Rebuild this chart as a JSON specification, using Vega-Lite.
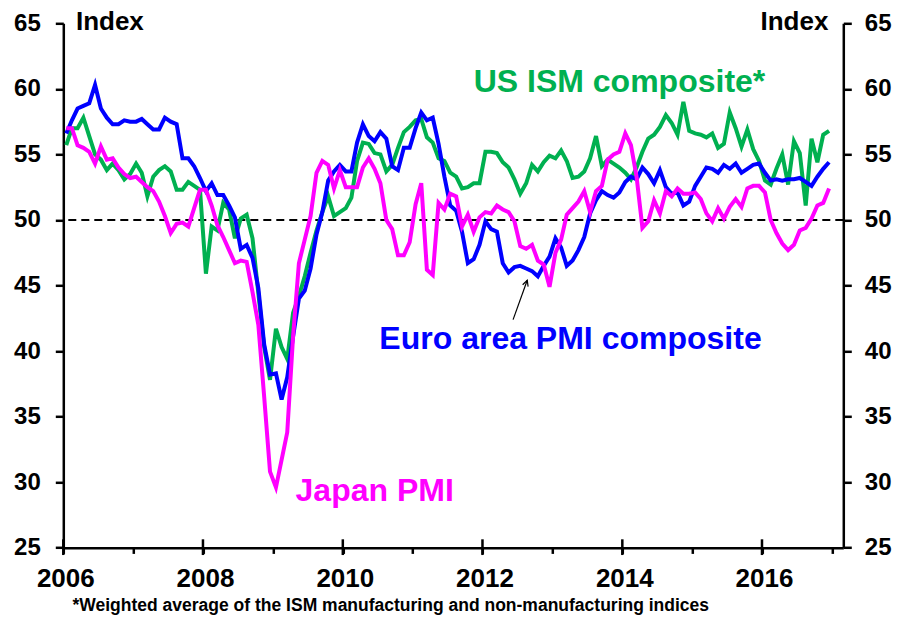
{
  "$schema": "https://vega.github.io/schema/vega-lite/v6.json",
  "width": 780,
  "height": 524.4,
  "autosize": {"type": "none"},
  "padding": {"left": 63.3, "top": 23.3, "right": 57.7, "bottom": 71.3},
  "background": "white",
  "config": {
    "view": {"stroke": null},
    "font": "Liberation Sans",
    "axis": {"grid": false, "domainColor": "#000000", "domainWidth": 2.5, "tickColor": "#000000", "tickWidth": 2.5, "labelColor": "#000000", "labelFont": "Liberation Sans", "labelFontWeight": "bold"}
  },
  "datasets": {
    "pmi": [
      {"month": "2006-01", "us": 55.7, "euro": 56.6, "japan": 57.0},
      {"month": "2006-02", "us": 57.0, "euro": 57.6, "japan": 57.0},
      {"month": "2006-03", "us": 57.0, "euro": 58.5, "japan": 55.7},
      {"month": "2006-04", "us": 57.8, "euro": 58.7, "japan": 55.5},
      {"month": "2006-05", "us": 56.4, "euro": 58.9, "japan": 55.2},
      {"month": "2006-06", "us": 55.0, "euro": 60.3, "japan": 54.3},
      {"month": "2006-07", "us": 54.6, "euro": 58.5, "japan": 55.6},
      {"month": "2006-08", "us": 53.8, "euro": 57.8, "japan": 54.6},
      {"month": "2006-09", "us": 54.3, "euro": 57.3, "japan": 54.7},
      {"month": "2006-10", "us": 53.8, "euro": 57.3, "japan": 54.0},
      {"month": "2006-11", "us": 53.1, "euro": 57.6, "japan": 53.5},
      {"month": "2006-12", "us": 53.5, "euro": 57.5, "japan": 53.2},
      {"month": "2007-01", "us": 54.3, "euro": 57.5, "japan": 53.3},
      {"month": "2007-02", "us": 53.6, "euro": 57.7, "japan": 52.9},
      {"month": "2007-03", "us": 51.8, "euro": 57.3, "japan": 52.5},
      {"month": "2007-04", "us": 53.3, "euro": 56.9, "japan": 52.2},
      {"month": "2007-05", "us": 53.8, "euro": 56.9, "japan": 51.4},
      {"month": "2007-06", "us": 54.1, "euro": 57.8, "japan": 50.3},
      {"month": "2007-07", "us": 53.7, "euro": 57.5, "japan": 49.0},
      {"month": "2007-08", "us": 52.3, "euro": 57.3, "japan": 49.7},
      {"month": "2007-09", "us": 52.3, "euro": 54.7, "japan": 49.8},
      {"month": "2007-10", "us": 52.9, "euro": 54.7, "japan": 49.5},
      {"month": "2007-11", "us": 52.6, "euro": 54.1, "japan": 50.9},
      {"month": "2007-12", "us": 52.3, "euro": 53.2, "japan": 52.3},
      {"month": "2008-01", "us": 45.9, "euro": 52.2, "japan": 52.3},
      {"month": "2008-02", "us": 49.5, "euro": 52.8, "japan": 51.1},
      {"month": "2008-03", "us": 49.2, "euro": 51.9, "japan": 49.6},
      {"month": "2008-04", "us": 51.3, "euro": 51.9, "japan": 48.7},
      {"month": "2008-05", "us": 50.8, "euro": 51.1, "japan": 47.7},
      {"month": "2008-06", "us": 48.6, "euro": 50.2, "japan": 46.7},
      {"month": "2008-07", "us": 50.1, "euro": 47.8, "japan": 46.9},
      {"month": "2008-08", "us": 50.4, "euro": 48.1, "japan": 46.8},
      {"month": "2008-09", "us": 48.6, "euro": 47.1, "japan": 44.5},
      {"month": "2008-10", "us": 44.4, "euro": 44.8, "japan": 42.0},
      {"month": "2008-11", "us": 40.3, "euro": 40.5, "japan": 36.5},
      {"month": "2008-12", "us": 37.8, "euro": 38.2, "japan": 30.8},
      {"month": "2009-01", "us": 41.7, "euro": 38.3, "japan": 29.6},
      {"month": "2009-02", "us": 40.3, "euro": 36.3, "japan": 31.7},
      {"month": "2009-03", "us": 39.4, "euro": 38.0, "japan": 33.8},
      {"month": "2009-04", "us": 42.9, "euro": 41.1, "japan": 41.1},
      {"month": "2009-05", "us": 44.2, "euro": 44.0, "japan": 46.7},
      {"month": "2009-06", "us": 45.7, "euro": 44.6, "japan": 48.5},
      {"month": "2009-07", "us": 47.5, "euro": 46.3, "japan": 50.3},
      {"month": "2009-08", "us": 49.2, "euro": 48.9, "japan": 53.6},
      {"month": "2009-09", "us": 50.6, "euro": 50.6, "japan": 54.5},
      {"month": "2009-10", "us": 51.8, "euro": 53.0, "japan": 54.2},
      {"month": "2009-11", "us": 50.3, "euro": 53.7, "japan": 52.4},
      {"month": "2009-12", "us": 50.6, "euro": 54.2, "japan": 53.8},
      {"month": "2010-01", "us": 50.9, "euro": 53.7, "japan": 52.5},
      {"month": "2010-02", "us": 51.7, "euro": 53.7, "japan": 52.5},
      {"month": "2010-03", "us": 54.5, "euro": 55.9, "japan": 52.5},
      {"month": "2010-04", "us": 55.9, "euro": 57.3, "japan": 54.0},
      {"month": "2010-05", "us": 55.8, "euro": 56.4, "japan": 54.7},
      {"month": "2010-06", "us": 55.1, "euro": 56.0, "japan": 53.9},
      {"month": "2010-07", "us": 55.0, "euro": 56.7, "japan": 52.8},
      {"month": "2010-08", "us": 53.7, "euro": 56.2, "japan": 50.0},
      {"month": "2010-09", "us": 54.2, "euro": 54.1, "japan": 49.3},
      {"month": "2010-10", "us": 55.5, "euro": 53.8, "japan": 47.3},
      {"month": "2010-11", "us": 56.7, "euro": 55.5, "japan": 47.3},
      {"month": "2010-12", "us": 57.1, "euro": 55.5, "japan": 48.3},
      {"month": "2011-01", "us": 57.6, "euro": 57.0, "japan": 51.2},
      {"month": "2011-02", "us": 57.7, "euro": 58.2, "japan": 52.8},
      {"month": "2011-03", "us": 56.3, "euro": 57.6, "japan": 46.2},
      {"month": "2011-04", "us": 55.9, "euro": 57.8, "japan": 45.8},
      {"month": "2011-05", "us": 54.7, "euro": 55.8, "japan": 51.3},
      {"month": "2011-06", "us": 54.5, "euro": 53.3, "japan": 50.8},
      {"month": "2011-07", "us": 53.6, "euro": 51.1, "japan": 52.0},
      {"month": "2011-08", "us": 53.3, "euro": 50.7, "japan": 51.8},
      {"month": "2011-09", "us": 52.4, "euro": 49.1, "japan": 49.5},
      {"month": "2011-10", "us": 52.5, "euro": 46.7, "japan": 50.4},
      {"month": "2011-11", "us": 52.8, "euro": 47.0, "japan": 49.1},
      {"month": "2011-12", "us": 52.8, "euro": 48.1, "japan": 50.2},
      {"month": "2012-01", "us": 55.2, "euro": 49.9, "japan": 50.6},
      {"month": "2012-02", "us": 55.2, "euro": 49.3, "japan": 50.5},
      {"month": "2012-03", "us": 55.1, "euro": 49.1, "japan": 51.1},
      {"month": "2012-04", "us": 54.4, "euro": 46.7, "japan": 50.8},
      {"month": "2012-05", "us": 54.0, "euro": 46.0, "japan": 50.6},
      {"month": "2012-06", "us": 53.1, "euro": 46.4, "japan": 49.9},
      {"month": "2012-07", "us": 52.0, "euro": 46.5, "japan": 48.0},
      {"month": "2012-08", "us": 52.8, "euro": 46.3, "japan": 47.8},
      {"month": "2012-09", "us": 54.2, "euro": 46.1, "japan": 48.1},
      {"month": "2012-10", "us": 53.7, "euro": 45.7, "japan": 46.9},
      {"month": "2012-11", "us": 54.4, "euro": 46.5, "japan": 46.6},
      {"month": "2012-12", "us": 54.9, "euro": 47.2, "japan": 44.9},
      {"month": "2013-01", "us": 54.7, "euro": 48.6, "japan": 47.5},
      {"month": "2013-02", "us": 55.3, "euro": 47.9, "japan": 48.5},
      {"month": "2013-03", "us": 54.5, "euro": 46.5, "japan": 50.4},
      {"month": "2013-04", "us": 53.2, "euro": 46.9, "japan": 50.9},
      {"month": "2013-05", "us": 53.3, "euro": 47.7, "japan": 51.4},
      {"month": "2013-06", "us": 53.7, "euro": 48.7, "japan": 52.2},
      {"month": "2013-07", "us": 54.7, "euro": 50.5, "japan": 50.6},
      {"month": "2013-08", "us": 56.4, "euro": 51.5, "japan": 52.2},
      {"month": "2013-09", "us": 54.1, "euro": 52.2, "japan": 52.6},
      {"month": "2013-10", "us": 54.6, "euro": 51.9, "japan": 54.6},
      {"month": "2013-11", "us": 54.3, "euro": 51.7, "japan": 55.0},
      {"month": "2013-12", "us": 54.0, "euro": 52.1, "japan": 55.2},
      {"month": "2014-01", "us": 53.6, "euro": 52.9, "japan": 56.6},
      {"month": "2014-02", "us": 53.1, "euro": 53.3, "japan": 55.7},
      {"month": "2014-03", "us": 54.0, "euro": 53.1, "japan": 53.3},
      {"month": "2014-04", "us": 55.2, "euro": 54.0, "japan": 49.4},
      {"month": "2014-05", "us": 56.2, "euro": 53.5, "japan": 49.9},
      {"month": "2014-06", "us": 56.5, "euro": 52.8, "japan": 51.5},
      {"month": "2014-07", "us": 57.1, "euro": 53.8, "japan": 50.5},
      {"month": "2014-08", "us": 58.0, "euro": 52.5, "japan": 52.2},
      {"month": "2014-09", "us": 57.4, "euro": 52.0, "japan": 51.8},
      {"month": "2014-10", "us": 56.5, "euro": 52.1, "japan": 52.4},
      {"month": "2014-11", "us": 59.0, "euro": 51.1, "japan": 52.0},
      {"month": "2014-12", "us": 56.8, "euro": 51.4, "japan": 52.0},
      {"month": "2015-01", "us": 56.6, "euro": 52.6, "japan": 52.1},
      {"month": "2015-02", "us": 56.5, "euro": 53.3, "japan": 51.6},
      {"month": "2015-03", "us": 56.3, "euro": 54.0, "japan": 50.5},
      {"month": "2015-04", "us": 56.6, "euro": 53.9, "japan": 49.9},
      {"month": "2015-05", "us": 55.5, "euro": 53.6, "japan": 50.9},
      {"month": "2015-06", "us": 55.8, "euro": 54.2, "japan": 50.1},
      {"month": "2015-07", "us": 58.2, "euro": 53.9, "japan": 51.0},
      {"month": "2015-08", "us": 57.0, "euro": 54.3, "japan": 51.6},
      {"month": "2015-09", "us": 55.6, "euro": 53.6, "japan": 51.0},
      {"month": "2015-10", "us": 56.9, "euro": 53.9, "japan": 52.4},
      {"month": "2015-11", "us": 55.4, "euro": 54.2, "japan": 52.6},
      {"month": "2015-12", "us": 54.5, "euro": 54.3, "japan": 52.6},
      {"month": "2016-01", "us": 53.0, "euro": 53.6, "japan": 52.1},
      {"month": "2016-02", "us": 52.7, "euro": 53.0, "japan": 50.0},
      {"month": "2016-03", "us": 53.9, "euro": 53.1, "japan": 49.0},
      {"month": "2016-04", "us": 55.0, "euro": 53.0, "japan": 48.2},
      {"month": "2016-05", "us": 52.7, "euro": 53.1, "japan": 47.7},
      {"month": "2016-06", "us": 56.0, "euro": 53.1, "japan": 48.1},
      {"month": "2016-07", "us": 55.1, "euro": 53.2, "japan": 49.2},
      {"month": "2016-08", "us": 51.1, "euro": 52.9, "japan": 49.4},
      {"month": "2016-09", "us": 56.2, "euro": 52.6, "japan": 50.1},
      {"month": "2016-10", "us": 54.4, "euro": 53.3, "japan": 51.1},
      {"month": "2016-11", "us": 56.5, "euro": 53.9, "japan": 51.3},
      {"month": "2016-12", "us": 56.8, "euro": 54.4, "japan": 52.4}
    ],
    "seriesLabels": [
      {"label": "US ISM composite*", "series": "US", "date": "2011-11-16", "value": 59.78},
      {"label": "Euro area PMI composite", "series": "Euro", "date": "2010-07-11", "value": 40.12},
      {"label": "Japan PMI", "series": "Japan", "date": "2009-04-29", "value": 28.6}
    ],
    "majorTicks": [
      {"tick": "2006-01-01"}, {"tick": "2008-01-01"}, {"tick": "2010-01-01"},
      {"tick": "2012-01-01"}, {"tick": "2014-01-01"}, {"tick": "2016-01-01"}
    ],
    "arrow": [
      {"tailDate": "2012-06-09", "tailValue": 42.4, "tipDate": "2012-08-22", "tipValue": 45.4}
    ]
  },
  "resolve": {"axis": {"x": "independent", "y": "independent"}},
  "layer": [
    {
      "data": {"values": [{"level": 50}]},
      "mark": {"type": "rule", "color": "#000000", "strokeWidth": 2, "strokeDash": [8, 5]},
      "encoding": {
        "y": {
          "field": "level", "type": "quantitative",
          "scale": {"domain": [25, 65], "nice": false, "zero": false},
          "axis": {"orient": "right", "values": [25, 30, 35, 40, 45, 50, 55, 60, 65], "tickSize": 8, "labelPadding": 13, "labelFontSize": 24, "title": null}
        }
      }
    },
    {
      "data": {"name": "majorTicks"},
      "mark": {"type": "rule", "color": "#000000", "strokeWidth": 2.5},
      "encoding": {
        "x": {
          "field": "tick", "type": "temporal",
          "scale": {"type": "utc", "domain": [{"year": 2006, "month": 1, "date": 1, "utc": true}, {"year": 2017, "month": 3, "date": 1, "utc": true}]},
          "axis": {
            "orient": "bottom",
            "title": null,
            "tickCount": {"interval": "year", "step": 1},
            "labelExpr": "utcyear(datum.value) % 2 === 0 ? utcFormat(datum.value, '%Y') : ''",
            "tickSize": 5.7,
            "labelFontSize": 26,
            "labelPadding": 12,
            "labelOffset": 2,
            "labelFlush": false,
            "labelOverlap": false
          }
        },
        "y": {"datum": 24.44, "type": "quantitative", "scale": {"domain": [25, 65], "nice": false, "zero": false}, "axis": null},
        "y2": {"datum": 25.64}
      }
    },
    {
      "data": {"name": "pmi"},
      "mark": {"type": "line", "color": "#00B050", "strokeWidth": 4},
      "encoding": {
        "x": {"field": "month", "type": "temporal", "timeUnit": "utcyearmonth", "bandPosition": 0.5, "scale": {"type": "utc"}, "axis": null},
        "y": {
          "field": "us", "type": "quantitative",
          "scale": {"domain": [25, 65], "nice": false, "zero": false},
          "axis": {"orient": "left", "values": [25, 30, 35, 40, 45, 50, 55, 60, 65], "tickSize": 8, "labelPadding": 15, "labelFontSize": 24, "title": null}
        }
      }
    },
    {
      "data": {"name": "pmi"},
      "mark": {"type": "line", "color": "#0000FF", "strokeWidth": 4},
      "encoding": {
        "x": {"field": "month", "type": "temporal", "timeUnit": "utcyearmonth", "bandPosition": 0.5, "scale": {"type": "utc"}, "axis": null},
        "y": {"field": "euro", "type": "quantitative", "scale": {"domain": [25, 65], "nice": false, "zero": false}, "axis": null}
      }
    },
    {
      "data": {"name": "pmi"},
      "mark": {"type": "line", "color": "#FF00FF", "strokeWidth": 4},
      "encoding": {
        "x": {"field": "month", "type": "temporal", "timeUnit": "utcyearmonth", "bandPosition": 0.5, "scale": {"type": "utc"}, "axis": null},
        "y": {"field": "japan", "type": "quantitative", "scale": {"domain": [25, 65], "nice": false, "zero": false}, "axis": null}
      }
    },
    {
      "data": {"name": "arrow"},
      "mark": {"type": "rule", "color": "#000000", "strokeWidth": 1.2},
      "encoding": {
        "x": {"field": "tailDate", "type": "temporal", "scale": {"type": "utc"}, "axis": null},
        "x2": {"field": "tipDate"},
        "y": {"field": "tailValue", "type": "quantitative", "scale": {"domain": [25, 65], "nice": false, "zero": false}, "axis": null},
        "y2": {"field": "tipValue"}
      }
    },
    {
      "data": {"name": "arrow"},
      "mark": {"type": "point", "shape": "M-0.55,1.1L0,0L0.55,1.1", "angle": 19, "filled": false, "color": "#000000", "strokeWidth": 1.2, "size": 110, "opacity": 1},
      "encoding": {
        "x": {"field": "tipDate", "type": "temporal", "scale": {"type": "utc"}, "axis": null},
        "y": {"field": "tipValue", "type": "quantitative", "scale": {"domain": [25, 65], "nice": false, "zero": false}, "axis": null}
      }
    },
    {
      "data": {"name": "seriesLabels"},
      "mark": {"type": "text", "align": "left", "baseline": "alphabetic", "fontSize": 32, "fontWeight": "bold", "font": "Liberation Sans"},
      "encoding": {
        "x": {"field": "date", "type": "temporal", "scale": {"type": "utc"}, "axis": null},
        "y": {"field": "value", "type": "quantitative", "scale": {"domain": [25, 65], "nice": false, "zero": false}, "axis": null},
        "text": {"field": "label"},
        "color": {"field": "series", "type": "nominal", "scale": {"domain": ["US", "Euro", "Japan"], "range": ["#00B050", "#0000FF", "#FF00FF"]}, "legend": null}
      }
    },
    {
      "data": {"values": [{"label": "Index", "date": "2006-03-08", "value": 64.49}]},
      "mark": {"type": "text", "align": "left", "baseline": "alphabetic", "fontSize": 26, "fontWeight": "bold", "font": "Liberation Sans", "color": "#000000"},
      "encoding": {
        "x": {"field": "date", "type": "temporal", "scale": {"type": "utc"}, "axis": null},
        "y": {"field": "value", "type": "quantitative", "scale": {"domain": [25, 65], "nice": false, "zero": false}, "axis": null},
        "text": {"field": "label"}
      }
    },
    {
      "data": {"values": [{"label": "Index", "date": "2016-12-13", "value": 64.49}]},
      "mark": {"type": "text", "align": "right", "baseline": "alphabetic", "fontSize": 26, "fontWeight": "bold", "font": "Liberation Sans", "color": "#000000"},
      "encoding": {
        "x": {"field": "date", "type": "temporal", "scale": {"type": "utc"}, "axis": null},
        "y": {"field": "value", "type": "quantitative", "scale": {"domain": [25, 65], "nice": false, "zero": false}, "axis": null},
        "text": {"field": "label"}
      }
    },
    {
      "data": {"values": [{"label": "*Weighted average of the ISM manufacturing and non-manufacturing indices", "date": "2006-02-18", "value": 20.17}]},
      "mark": {"type": "text", "align": "left", "baseline": "alphabetic", "fontSize": 17.5, "fontWeight": "bold", "font": "Liberation Sans", "color": "#000000"},
      "encoding": {
        "x": {"field": "date", "type": "temporal", "scale": {"type": "utc"}, "axis": null},
        "y": {"field": "value", "type": "quantitative", "scale": {"domain": [25, 65], "nice": false, "zero": false}, "axis": null},
        "text": {"field": "label"}
      }
    }
  ]
}
